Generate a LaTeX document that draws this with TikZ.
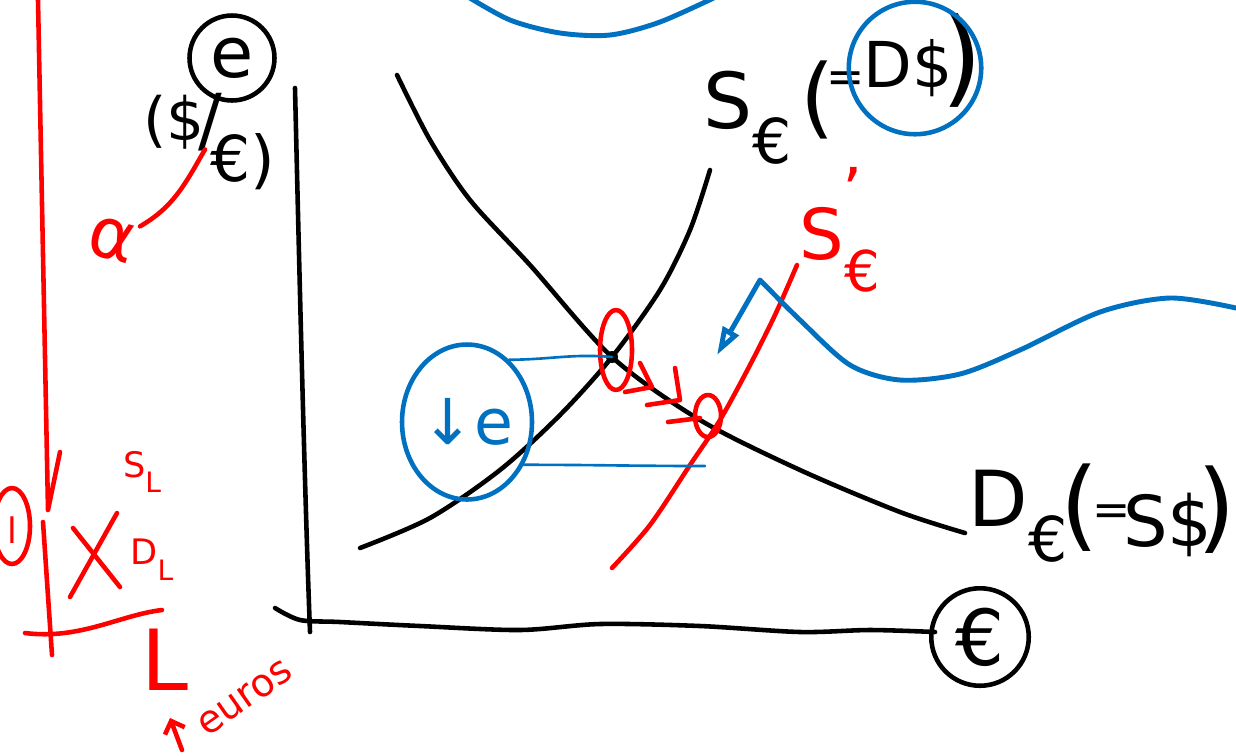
\documentclass[tikz,border=0pt]{standalone}
\usepackage{fontspec}
\setmainfont{DejaVu Sans}
\usetikzlibrary{calc, arrows.meta, shapes.geometric}

\newcommand{\lowsub}[1]{\raisebox{-0.45em}{\scalebox{0.8}{#1}}}

\begin{document}
\begin{tikzpicture}[x=0.02cm, y=-0.02cm, line cap=round, line join=round]
    % Define ink colours and pen
    \definecolor{inkRed}{HTML}{FF0000}
    \definecolor{inkBlue}{HTML}{0070C0}
    \def\penWidth{2.6pt}
    \tikzset{
        pen/.style={line width=\penWidth},
        hand/.style={inner sep=0pt, font=\fontsize{#1}{#1}\selectfont},
        hand/.default=40
    }

    \useasboundingbox (0,0) rectangle (1236,755);

    % Draw axes
    \draw[pen] (295,88) .. controls (300,300) and (305,500) .. (310,632);
    \draw[pen] plot[smooth] coordinates {(275,608) (300,620) (340,622) (420,626) (520,630) (600,624) (700,626) (800,632) (870,630) (935,632)};

    % Label axes
    \node[hand=44, circle, draw, pen, minimum size=1.95cm] (euroAxis) at (980,637) {€};
    \node[hand=40, circle, draw, pen, minimum size=1.7cm] (eCirc) at (232,58) {e};
    \node[hand=34] (dollarLbl) at (174,122) {(\$};
    \node[hand=40] (slashLbl) at (210,122) {/};
    \node[hand=36] (euroLbl) at (243,162) {€)};

    % Draw supply and demand curves
    \coordinate (eq) at (612,357);
    \draw[pen] plot[smooth] coordinates {(360,548) (430,518) (500,470) (560,415) (612,357) (660,290) (690,230) (710,170)};
    \draw[pen] plot[smooth] coordinates {(397,75) (430,140) (470,200) (530,265) (612,357) (700,420) (800,470) (900,512) (965,533)};
    \fill (eq) circle (6);

    % Label the curves
    \node[hand=44] (supplyLbl) at (748,118) {S\lowsub{€}};
    \node[hand=50] (supplyOpen) at (818,100) {(};
    \node[hand=26] (supplyEq) at (846,82) {=};
    \node[hand=36] (supplyDollar) at (908,68) {D\$};
    \node[hand=60] (supplyClose) at (962,60) {)};
    \node[hand=44] (demandLbl) at (1018,516) {D\lowsub{€}};
    \node[hand=56] (demandOpen) at (1080,508) {(};
    \node[hand=26] (demandEq) at (1112,515) {=};
    \node[hand=40] (demandDollar) at (1168,525) {S\$};
    \node[hand=56] (demandClose) at (1217,510) {)};

    % Draw shifted supply in red
    \draw[pen, inkRed] plot[smooth] coordinates {(612,568) (650,525) (690,465) (720,420) (750,365) (775,315) (797,265)};
    \node[hand=40, text=inkRed] (shiftLbl) at (840,250) {S\lowsub{€}};
    \node[hand=36, text=inkRed] (primeMark) at (853,190) {'};

    % Mark the old and new equilibrium
    \draw[pen, inkRed] (616,350) ellipse (16 and 40);
    \draw[pen, inkRed] (708,416) ellipse (13 and 21);
    \draw[pen, inkRed] (640,363) -- (652,387) -- (625,392);
    \draw[pen, inkRed] (675,368) -- (680,400) -- (647,405);
    \draw[pen, inkRed] (668,422) -- (700,418);

    % Draw the blue notes
    \node[hand=36, text=inkBlue, ellipse, draw=inkBlue, pen, minimum width=2.1cm, minimum height=3.1cm, inner sep=0pt] (eDown) at (467,422) {↓e};
    \coordinate (sPrimeLow) at (705,466);
    \draw[pen, inkBlue, line width=1.5pt] (eDown.56) to[out=0, in=175] (eq);
    \draw[pen, inkBlue, line width=1.5pt] (eDown.-37) to[out=0, in=180] (sPrimeLow);
    \node[circle, draw=inkBlue, pen, minimum size=2.65cm] (dollarRing) at (915,68) {};
    \coordinate (shiftTip) at (717,355);
    \draw[pen, inkBlue, line width=2.8pt, -{Triangle[open, length=16pt, width=10pt]}] plot[smooth] coordinates {(1236,308) (1170,298) (1100,312) (1020,350) (960,374) (900,380) (850,365) (800,320) (760,280)} -- (shiftTip);
    \draw[pen, inkBlue, line width=2.8pt] plot[smooth] coordinates {(465,-5) (510,20) (560,33) (610,35) (660,22) (720,-5)};

    % Draw the red notes on the left
    \coordinate (redTop) at (38,0);
    \coordinate (redBot) at (48,510);
    \draw[pen, inkRed] (redTop) -- (redBot) -- (60,452);
    \draw[pen, inkRed] (12,526) ellipse (18 and 38);
    \node[hand=20, text=inkRed] (ringMark) at (12,530) {l};
    \draw[pen, inkRed] (43,522) -- (52,655);
    \draw[pen, inkRed] (25,633) .. controls (80,640) and (120,615) .. (162,610);
    \draw[pen, inkRed] (73,528) -- (120,587);
    \draw[pen, inkRed] (117,513) -- (70,597);
    \node[hand=20, text=inkRed] (sLbl) at (142,472) {S\lowsub{L}};
    \node[hand=20, text=inkRed] (dLbl) at (152,560) {D\lowsub{L}};
    \node[hand=48, text=inkRed] (lLbl) at (165,660) {L};
    \node[hand=22, text=inkRed, rotate=35] (eurosLbl) at (245,698) {euros};
    \coordinate (arrowFoot) at (182,750);
    \draw[pen, inkRed, -{Straight Barb[length=6pt]}] (arrowFoot) -- (170,718);
    \node[hand=40, text=inkRed, rotate=-15] (alphaLbl) at (112,240) {α};
    \draw[pen, inkRed] (alphaLbl.north east) to[out=30, in=-120] (dollarLbl.south east);

\end{tikzpicture}
\end{document}
